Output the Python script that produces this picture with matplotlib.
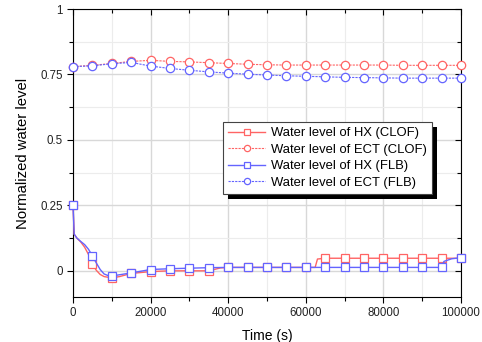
#!/usr/bin/env python3
"""Normalized water level of HX and ECT for the CLOF and FLB transients."""

import matplotlib

matplotlib.use("Agg")

import matplotlib.pyplot as plt
from matplotlib import patheffects
from matplotlib.ticker import MultipleLocator

# ECT levels, sampled every 5000 s
ect_time = [0, 5000, 10000, 15000, 20000, 25000, 30000, 35000, 40000, 45000, 50000,
            55000, 60000, 65000, 70000, 75000, 80000, 85000, 90000, 95000, 100000]
ect_clof = [0.780, 0.785, 0.792, 0.800, 0.804, 0.800, 0.798, 0.795, 0.792, 0.789, 0.787,
            0.786, 0.786, 0.786, 0.786, 0.786, 0.786, 0.785, 0.785, 0.785, 0.785]
ect_flb = [0.780, 0.783, 0.791, 0.796, 0.782, 0.773, 0.766, 0.760, 0.755, 0.751, 0.748,
           0.745, 0.743, 0.741, 0.739, 0.738, 0.737, 0.736, 0.736, 0.736, 0.736]

# HX levels (curve points, markers on every 5000 s)
hx_clof_time = [0, 300, 1000, 2000, 3000, 4000, 5000, 6000, 7000, 8000, 10000, 12000,
                15000, 20000, 25000, 30000, 35000, 38000, 40000, 45000, 50000, 55000,
                60000, 62400, 63000, 65000, 70000, 75000, 80000, 85000, 90000, 95000, 100000]
hx_clof = [0.250, 0.140, 0.125, 0.110, 0.090, 0.062, 0.025, 0.002, -0.014, -0.022, -0.027,
           -0.022, -0.010, -0.003, 0.000, 0.000, 0.000, 0.011, 0.013, 0.013, 0.013, 0.013,
           0.013, 0.013, 0.045, 0.048, 0.048, 0.048, 0.048, 0.048, 0.048, 0.048, 0.048]
hx_flb_time = [0, 300, 1000, 2000, 3000, 4000, 5000, 6000, 7000, 8000, 9000, 10000, 12000,
               15000, 20000, 25000, 30000, 35000, 40000, 45000, 50000, 55000, 60000,
               65000, 70000, 75000, 80000, 85000, 90000, 95000, 95600, 97600, 100000]
hx_flb = [0.250, 0.140, 0.125, 0.112, 0.100, 0.082, 0.057, 0.030, 0.005, -0.012, -0.018,
          -0.020, -0.015, -0.008, 0.005, 0.008, 0.010, 0.012, 0.013, 0.013, 0.013, 0.013,
          0.013, 0.013, 0.013, 0.013, 0.013, 0.013, 0.013, 0.013, 0.036, 0.046, 0.050]

MARK_STEP = 5000
RED = "#ff6464"
BLUE = "#6464ff"

plt.rcParams["font.family"] = ["Liberation Sans", "DejaVu Sans"]


def marker_indices(times):
    return [i for i, t in enumerate(times) if t % MARK_STEP == 0]


fig = plt.figure(figsize=(4.82, 3.42), dpi=100)
ax = fig.add_axes([0.1515, 0.1316, 0.805, 0.842])

common = dict(markerfacecolor="white", markersize=6, markeredgewidth=0.9, clip_on=False, zorder=3)
ax.plot(hx_clof_time, hx_clof, color=RED, lw=1.0, marker="s",
        markevery=marker_indices(hx_clof_time), label="Water level of HX (CLOF)", **common)
ax.plot(ect_time, ect_clof, color=RED, lw=0.8, ls=(0, (2, 1)), marker="o",
        label="Water level of ECT (CLOF)", **common)
ax.plot(hx_flb_time, hx_flb, color=BLUE, lw=1.0, marker="s",
        markevery=marker_indices(hx_flb_time), label="Water level of HX (FLB)", **common)
ax.plot(ect_time, ect_flb, color=BLUE, lw=0.8, ls=(0, (2, 1)), marker="o",
        label="Water level of ECT (FLB)", **common)

ax.set_xlim(0, 100000)
ax.set_ylim(-0.1, 1.0)
ax.xaxis.set_major_locator(MultipleLocator(20000))
ax.xaxis.set_minor_locator(MultipleLocator(10000))
ax.yaxis.set_minor_locator(MultipleLocator(0.125))
ax.set_yticks([0, 0.25, 0.5, 0.75, 1.0])
ax.set_yticklabels(["0", "0.25", "0.5", "0.75", "1"])

ax.grid(True, which="major", color="#d8d8d8", lw=1.0)
ax.grid(True, which="minor", color="#ececec", lw=0.8)
ax.set_axisbelow(True)

ax.tick_params(which="both", labelsize=8.3, colors="black", labelcolor="#222222")
ax.tick_params(which="major", length=4, width=0.8)
ax.tick_params(which="minor", length=3, width=0.8)
ax.tick_params(which="both", top=True, right=True)
for spine in ax.spines.values():
    spine.set_linewidth(0.8)

# outward ticks left/bottom, inward top/right
ax.xaxis.set_tick_params(which="both", direction="out")
ax.yaxis.set_tick_params(which="both", direction="out")
for tick in ax.xaxis.get_major_ticks() + ax.xaxis.get_minor_ticks():
    tick.tick2line.set_marker(matplotlib.lines.TICKDOWN)
for tick in ax.yaxis.get_major_ticks() + ax.yaxis.get_minor_ticks():
    tick.tick2line.set_marker(matplotlib.lines.TICKLEFT)

ax.set_xlabel("Time (s)", fontsize=10, labelpad=7)
ax.set_ylabel("Normalized water level", fontsize=10.7, labelpad=7)

leg = ax.legend(loc="upper left", bbox_to_anchor=(0.387, 0.608), borderaxespad=0,
                fontsize=9.4, frameon=True, fancybox=False, framealpha=1,
                edgecolor="#444444", handlelength=2.8, handletextpad=0.45,
                labelspacing=0.33, borderpad=0.4, markerscale=0.75)
frame = leg.get_frame()
frame.set_linewidth(0.8)
frame.set_path_effects([
    patheffects.SimplePatchShadow(offset=(3.5, -3.5), shadow_rgbFace="black", alpha=1.0),
    patheffects.Normal(),
])

fig.savefig("out.png", dpi=100)
plt.close(fig)
